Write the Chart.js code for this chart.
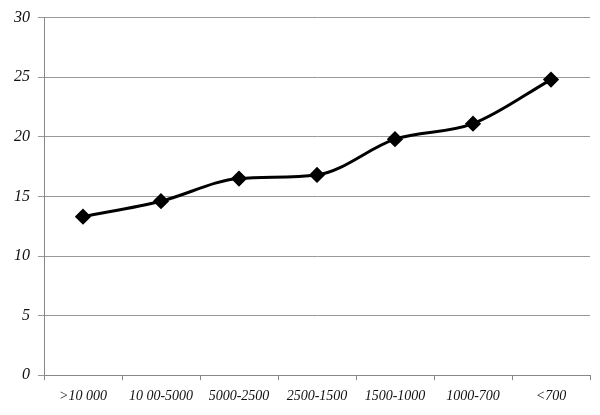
<!DOCTYPE html>
<html>
<head>
<meta charset="utf-8">
<script src="https://cdn.jsdelivr.net/npm/chart.js@4"></script>
<style>
  html, body { margin: 0; padding: 0; background: #fff; }
  #wrap { width: 600px; height: 415px; }
</style>
</head>
<body>
<div id="wrap"><canvas id="chart"></canvas></div>
<script>
// Values
const categories = ['>10 000', '10 00-5000', '5000-2500', '2500-1500', '1500-1000', '1000-700', '<700'];
const values = [13.3, 14.6, 16.5, 16.8, 19.8, 21.1, 24.8];

const font = { family: '"Liberation Serif", "DejaVu Serif", serif', size: 16, style: 'italic' };

new Chart(document.getElementById('chart'), {
  type: 'line',
  data: {
    labels: categories,
    datasets: [{
      data: values,
      borderColor: '#000',
      backgroundColor: '#000',
      borderWidth: 3,
      tension: 0.4,
      cubicInterpolationMode: 'monotone',
      pointStyle: 'rectRot',
      pointRadius: 6,
      pointHoverRadius: 6
    }]
  },
  options: {
    responsive: true,
    maintainAspectRatio: false,
    animation: false,
    layout: { padding: { top: 10, right: 10, left: 6, bottom: 2 } },
    plugins: { legend: { display: false }, tooltip: { enabled: false } },
    scales: {
      x: {
        offset: true,
        grid: { display: true, drawOnChartArea: false, offset: true, color: '#888', tickLength: 5 },
        border: { color: '#888' },
        ticks: { color: '#111', font: { ...font, size: 14 }, maxRotation: 0, autoSkip: false, padding: 8 }
      },
      y: {
        min: 0, max: 30,
        grid: { color: '#999', tickLength: 6 },
        border: { color: '#888' },
        ticks: { stepSize: 5, color: '#111', font: font, padding: 8 }
      }
    }
  }
});
</script>
</body>
</html>
